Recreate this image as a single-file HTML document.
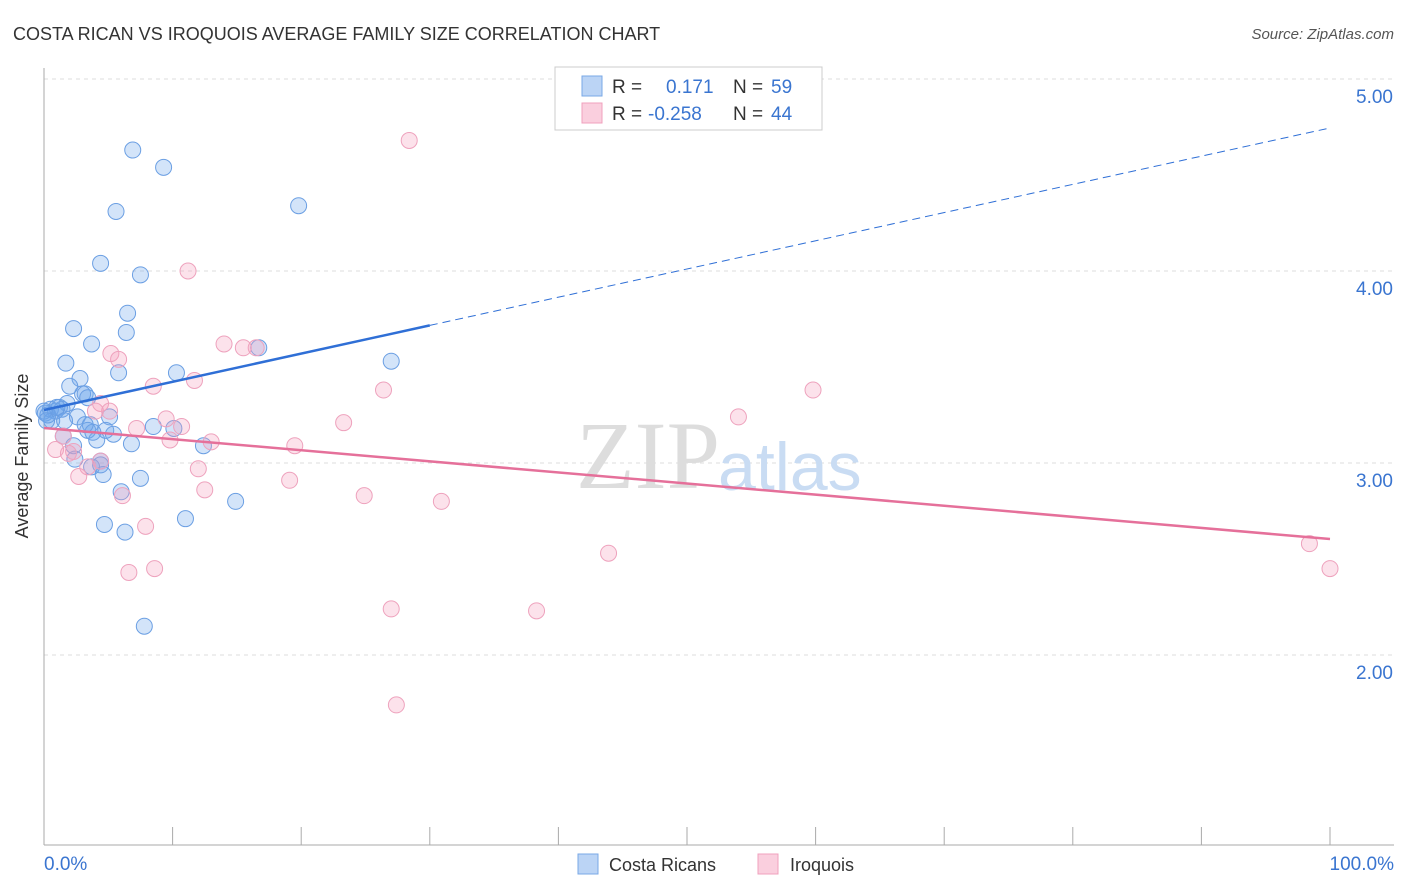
<!DOCTYPE html>
<html><head><meta charset="utf-8"><style>
body{margin:0;background:#fff;font-family:"Liberation Sans",sans-serif;}
svg{display:block}
</style></head><body>
<svg id="chart" width="1406" height="892">
<text x="13" y="40" font-size="18" fill="#333">COSTA RICAN VS IROQUOIS AVERAGE FAMILY SIZE CORRELATION CHART</text>
<text x="1394" y="39" font-size="15" fill="#555" text-anchor="end" font-style="italic">Source: ZipAtlas.com</text>
<text x="28" y="456" font-size="18" fill="#333" text-anchor="middle" transform="rotate(-90 28 456)">Average Family Size</text>
<g id="grid"></g>
<text x="720" y="488" font-size="96" fill="#ddd" text-anchor="end" font-family="Liberation Serif,serif">ZIP</text>
<text x="718" y="490" font-size="68" fill="#c9dcf3">atlas</text>
<g id="marks"></g>
<g>
<rect x="555" y="67" width="267" height="63" fill="#fff" stroke="#ccc"/>
<rect x="582" y="76" width="20" height="20" fill="rgba(120,170,235,0.5)" stroke="#7aa8e6"/>
<rect x="582" y="103" width="20" height="20" fill="rgba(245,160,190,0.5)" stroke="#f0a0bd"/>
<text x="612" y="93" font-size="19" fill="#333">R = <tspan x="666" fill="#3a75d0">0.171</tspan><tspan x="733" fill="#333">N = </tspan><tspan x="771" fill="#3a75d0">59</tspan></text>
<text x="612" y="120" font-size="19" fill="#333">R = <tspan x="648" fill="#3a75d0">-0.258</tspan><tspan x="733" fill="#333">N = </tspan><tspan x="771" fill="#3a75d0">44</tspan></text>
</g>
<g>
<rect x="578" y="854" width="20" height="20" fill="rgba(120,170,235,0.5)" stroke="#7aa8e6"/>
<text x="609" y="871" font-size="18" fill="#333">Costa Ricans</text>
<rect x="758" y="854" width="20" height="20" fill="rgba(245,160,190,0.5)" stroke="#f0a0bd"/>
<text x="790" y="871" font-size="18" fill="#333">Iroquois</text>
</g>
</svg>
<script>
const yTicks=[2,3,4,5];
const yTickLabels=["2.00","3.00","4.00","5.00"];
const xTickCount=10;
const blueX=[6.9,9.3,5.6,19.8,4.4,7.5,2.3,6.5,6.4,3.7,16.7,1.7,5.8,10.3,27.0,2.8,2.0,3.0,3.2,1.8,1.2,0.5,0.9,0.1,1.4,0.6,2.6,5.1,3.6,3.4,3.8,4.1,4.8,5.4,8.5,10.1,6.8,12.4,1.5,2.3,2.4,4.4,3.7,4.6,7.5,6.0,14.9,11.0,4.7,6.3,7.8,0.3,1.0,1.6,3.2,4.4,3.4,0,0.2];
const blueY=[4.63,4.54,4.31,4.34,4.04,3.98,3.70,3.78,3.68,3.62,3.60,3.52,3.47,3.47,3.53,3.44,3.40,3.36,3.36,3.31,3.29,3.28,3.27,3.26,3.28,3.22,3.24,3.24,3.20,3.17,3.16,3.12,3.17,3.15,3.19,3.18,3.10,3.09,3.14,3.09,3.02,3.01,2.98,2.94,2.92,2.85,2.80,2.71,2.68,2.64,2.15,3.25,3.29,3.22,3.20,2.99,3.34,3.27,3.22];
const pinkX=[28.4,11.2,14.0,15.5,16.5,5.2,5.8,11.7,8.5,26.4,59.8,4.4,5.1,4.0,9.5,54.0,23.3,7.2,10.7,1.5,13.0,9.8,19.5,0.9,2.3,1.9,4.4,12.0,3.4,2.7,19.1,12.5,6.1,24.9,30.9,7.9,43.9,98.4,6.6,8.6,27.0,38.3,100,27.4];
const pinkY=[4.68,4.00,3.62,3.60,3.60,3.57,3.54,3.43,3.40,3.38,3.38,3.31,3.27,3.27,3.23,3.24,3.21,3.18,3.19,3.14,3.11,3.12,3.09,3.07,3.06,3.05,3.01,2.97,2.98,2.93,2.91,2.86,2.83,2.83,2.80,2.67,2.53,2.58,2.43,2.45,2.24,2.23,2.45,1.74];
const blueLine=[3.276,4.745];
const pinkLine=[3.182,2.604];
const blueSolidEnd=30;

const NS="http://www.w3.org/2000/svg";
const X=p=>44+p*12.86;
const Y=v=>463-(v-3)*192;
function mk(tag,attrs,parent){const e=document.createElementNS(NS,tag);for(const k in attrs)e.setAttribute(k,attrs[k]);parent.appendChild(e);return e;}
const grid=document.getElementById('grid');
yTicks.forEach((t,i)=>{
  const l=mk('line',{x1:44,x2:1394,y1:Y(t),y2:Y(t),stroke:'#ddd','stroke-dasharray':'4,4'},grid);
  
  
  const tx=mk('text',{x:1393,y:Y(t)+24,'font-size':19,fill:'#3a75d0','text-anchor':'end'},grid);
  tx.textContent=yTickLabels[i];
  
  
});
const ax=mk('line',{x1:44,x2:44,y1:68,y2:845,stroke:'#aaa'},grid);


const bx=mk('line',{x1:44,x2:1394,y1:845,y2:845,stroke:'#aaa'},grid);


for(let i=0;i<=xTickCount;i++){
  const t=mk('line',{x1:X(i*10),x2:X(i*10),y1:827,y2:845,stroke:'#aaa'},grid);
  
  
}
const xl=mk('text',{x:44,y:870,'font-size':19,fill:'#3a75d0'},grid);xl.textContent='0.0%';


const xr=mk('text',{x:1394,y:870,'font-size':19,fill:'#3a75d0','text-anchor':'end'},grid);xr.textContent='100.0%';



const marks=document.getElementById('marks');
blueX.forEach((x,i)=>{
  const c=mk('circle',{cx:X(x),cy:Y(blueY[i]),r:8,fill:'rgba(110,165,235,0.3)',stroke:'#6b9fe3','stroke-width':1},marks);
  
  
});
pinkX.forEach((x,i)=>{
  const c=mk('circle',{cx:X(x),cy:Y(pinkY[i]),r:8,fill:'rgba(245,160,190,0.3)',stroke:'#eea2bd','stroke-width':1},marks);
  
  
});
const bAt=p=>blueLine[0]+(blueLine[1]-blueLine[0])*p/100;
const bl=mk('line',{x1:X(0),y1:Y(bAt(0)),x2:X(blueSolidEnd),y2:Y(bAt(blueSolidEnd)),stroke:'#2f6fd6','stroke-width':2.5},marks);


const bd=mk('line',{x1:X(blueSolidEnd),y1:Y(bAt(blueSolidEnd)),x2:X(100),y2:Y(bAt(100)),stroke:'#2f6fd6','stroke-width':1,'stroke-dasharray':'8,5'},marks);


const pl=mk('line',{x1:X(0),y1:Y(pinkLine[0]),x2:X(100),y2:Y(pinkLine[1]),stroke:'#e5709a','stroke-width':2.5},marks);


</script>
</body></html>
